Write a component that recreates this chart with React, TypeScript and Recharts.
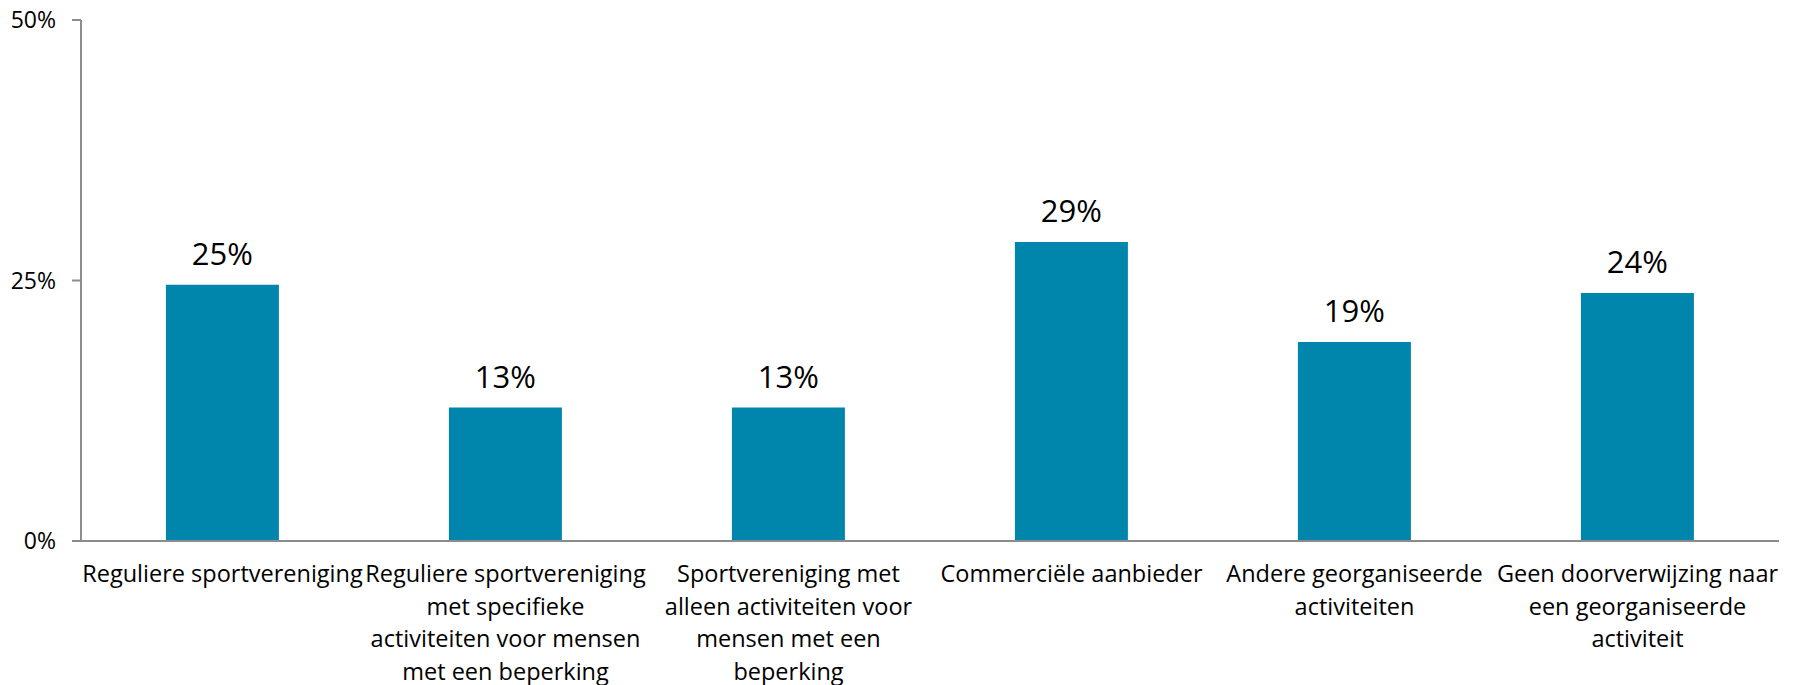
import { BarChart, Bar, XAxis, YAxis, LabelList } from 'recharts';

const categories = [
    'Reguliere sportvereniging',
    'Reguliere sportvereniging\nmet specifieke\nactiviteiten voor mensen\nmet een beperking',
    'Sportvereniging met\nalleen activiteiten voor\nmensen met een\nbeperking',
    'Commerciële aanbieder',
    'Andere georganiseerde\nactiviteiten',
    'Geen doorverwijzing naar\neen georganiseerde\nactiviteit',
];
const values = [24.6, 12.8, 12.8, 28.7, 19.1, 23.8];
const yTicks = [0, 25, 50];

const data = categories.map((name, i) => ({ name, value: values[i] }));

const FONT = '"Open Sans", Lato, sans-serif';

const WrappedTick = ({ x, y, payload }: any) => {
    const lines = String(payload.value).split('\n');
    return (
        <text x={x} y={y} textAnchor="middle" fontFamily={FONT} fontSize={23.5} fill="#000">
            {lines.map((l: string, i: number) => (
                <tspan key={i} x={x} dy={i === 0 ? 33 : 32.5}>{l}</tspan>
            ))}
        </text>
    );
};

const App = () => {
    return (
        <div style={{ position: 'absolute', left: 0, top: 0, background: '#fff' }}>
            <BarChart
                width={1797}
                height={685}
                data={data}
                margin={{ top: 20, right: 18, left: 0, bottom: 0 }}
                barCategoryGap="30%"
            >
                <YAxis
                    width={81}
                    domain={[0, 50]}
                    ticks={yTicks}
                    tickFormatter={(v: number) => `${v}%`}
                    axisLine={{ stroke: '#8c8c8c', strokeWidth: 2 }}
                    tickLine={{ stroke: '#8c8c8c', strokeWidth: 2 }}
                    tickSize={9}
                    tickMargin={16}
                    tick={{ fontFamily: FONT, fontSize: 23, fill: '#000' }}
                />
                <XAxis
                    dataKey="name"
                    height={144}
                    interval={0}
                    axisLine={{ stroke: '#8c8c8c', strokeWidth: 2 }}
                    tickLine={false}
                    tick={<WrappedTick />}
                />
                <Bar dataKey="value" fill="#0085ad" isAnimationActive={false}>
                    <LabelList
                        dataKey="value"
                        position="top"
                        offset={20}
                        formatter={(v: any) => `${Math.round(Number(v))}%`}
                        style={{ fontFamily: FONT, fontSize: 31, fill: '#000' }}
                    />
                </Bar>
            </BarChart>
        </div>
    );
};

export default App;
